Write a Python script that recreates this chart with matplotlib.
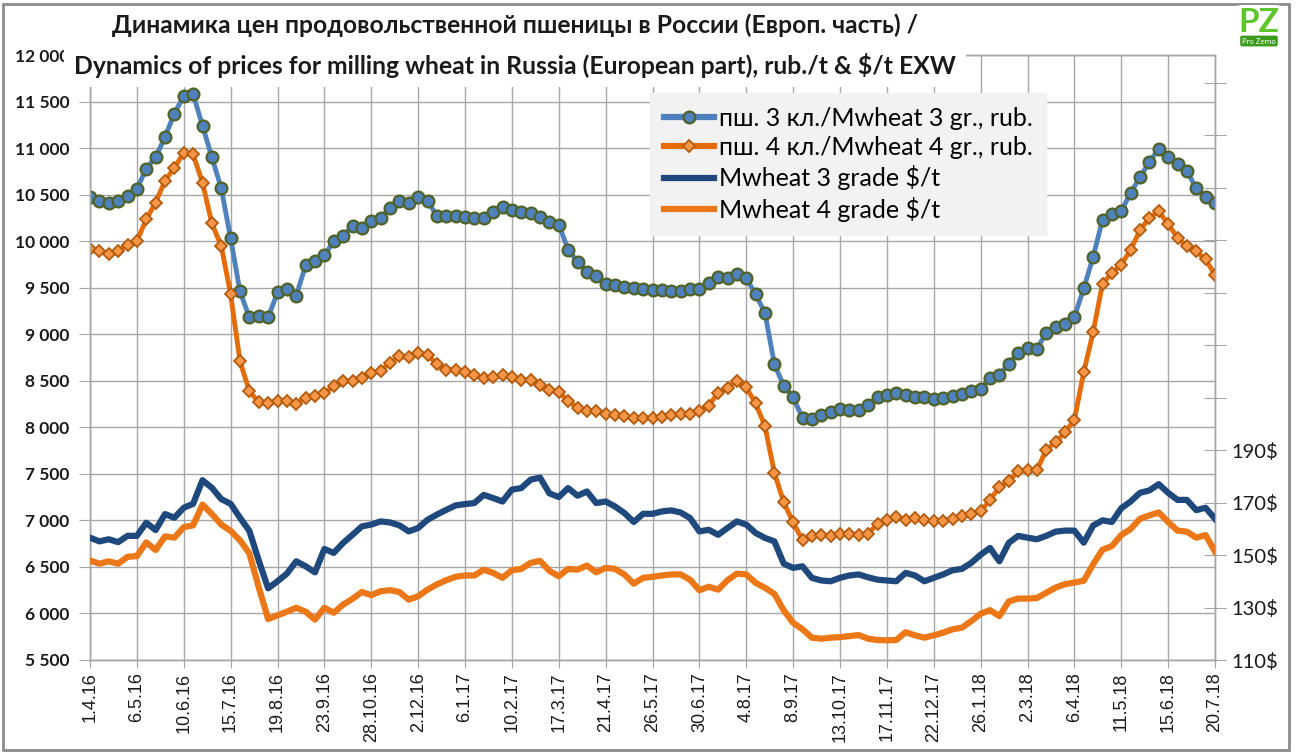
import matplotlib
matplotlib.use("Agg")
import matplotlib.pyplot as plt
from matplotlib.patches import Rectangle, FancyBboxPatch
from matplotlib.lines import Line2D

W, H = 1304, 753

tick_labels = ["1.4.16", "6.5.16", "10.6.16", "15.7.16", "19.8.16", "23.9.16",
               "28.10.16", "2.12.16", "6.1.17", "10.2.17", "17.3.17", "21.4.17",
               "26.5.17", "30.6.17", "4.8.17", "8.9.17", "13.10.17", "17.11.17",
               "22.12.17", "26.1.18", "2.3.18", "6.4.18", "11.5.18", "15.6.18",
               "20.7.18"]

# weekly prices, rub/t
rub3 = [10470, 10435, 10410, 10430, 10490, 10560, 10780, 10900, 11120, 11370,
        11560, 11580, 11240, 10900, 10570, 10030, 9460, 9180, 9200, 9180,
        9450, 9490, 9415, 9740, 9785, 9846, 10000, 10060, 10160, 10143,
        10220, 10250, 10357, 10430, 10410, 10470, 10430, 10275, 10268, 10268,
        10260, 10250, 10250, 10310, 10364, 10332, 10318, 10303, 10257, 10210,
        10178, 9910, 9779, 9671, 9625, 9536, 9525, 9511, 9493, 9490,
        9475, 9475, 9464, 9464, 9482, 9490, 9546, 9614, 9607, 9650,
        9600, 9430, 9225, 8680, 8445, 8321, 8100, 8093, 8136, 8164,
        8200, 8189, 8189, 8236, 8325, 8350, 8368, 8350, 8325, 8325,
        8307, 8314, 8332, 8357, 8386, 8411, 8529, 8564, 8682, 8803,
        8850, 8840, 9018, 9074, 9111, 9185, 9493, 9830, 10229, 10292,
        10321, 10520, 10686, 10852, 10993, 10900, 10826, 10753, 10568, 10476,
        10410]
rub4 = [9919, 9899, 9859, 9899, 9960, 10000, 10234, 10415, 10649, 10790,
        10948, 10931, 10629, 10190, 9948, 9431, 8710, 8387, 8270, 8258,
        8286, 8286, 8250, 8319, 8340, 8364, 8443, 8496, 8496, 8525,
        8586, 8607, 8693, 8764, 8750, 8793, 8775, 8679, 8621, 8621,
        8596, 8561, 8525, 8536, 8561, 8536, 8507, 8507, 8454, 8404,
        8375, 8286, 8211, 8179, 8179, 8139, 8132, 8121, 8096, 8104,
        8096, 8114, 8132, 8143, 8143, 8179, 8232, 8371, 8425, 8496,
        8429, 8257, 8011, 7510, 7193, 6979, 6786, 6829, 6846, 6829,
        6857, 6857, 6846, 6857, 6961, 7007, 7032, 7000, 7025, 7000,
        6989, 6996, 7014, 7043, 7068, 7096, 7221, 7354, 7422, 7526,
        7537, 7537, 7760, 7841, 7945, 8081, 8592, 9022, 9544, 9655,
        9747, 9906, 10117, 10250, 10320, 10184, 10036, 9944, 9889, 9804,
        9638]
# weekly prices, $/t
usd3 = [156.6, 155.2, 156.0, 154.9, 157.3, 157.3, 162.3, 159.5, 165.6, 164.2,
        168.0, 169.5, 178.5, 175.6, 171.3, 169.5, 164.2, 159.2, 147.9, 137.3,
        140.0, 142.9, 147.6, 145.7, 143.4, 152.3, 150.8, 154.6, 157.7, 160.9,
        161.6, 162.8, 162.4, 161.3, 159.0, 160.3, 163.4, 165.4, 167.2, 168.9,
        169.4, 169.8, 172.9, 171.7, 170.4, 174.9, 175.5, 178.7, 179.5, 173.5,
        172.1, 175.5, 172.6, 174.2, 169.8, 170.4, 168.5, 166.0, 162.6, 165.7,
        165.7, 166.6, 167.0, 166.2, 164.1, 159.0, 159.6, 157.7, 160.3, 162.8,
        161.6, 158.4, 156.5, 155.2, 146.7, 145.1, 145.7, 141.3, 140.3, 140.0,
        141.3, 142.2, 142.6, 141.5, 140.6, 140.3, 140.0, 143.2, 142.2, 140.0,
        141.3, 142.6, 144.2, 144.7, 147.0, 150.1, 152.7, 147.6, 154.6, 157.3,
        156.6, 156.0, 157.3, 158.9, 159.3, 159.3, 154.7, 161.2, 163.2, 162.6,
        167.8, 170.4, 173.7, 174.6, 177.0, 173.7, 171.0, 171.0, 167.1, 168.0,
        163.8]
usd4 = [147.9, 146.7, 147.6, 146.7, 149.3, 149.6, 154.8, 151.9, 157.1, 156.6,
        160.6, 161.3, 169.2, 165.6, 161.6, 159.2, 155.6, 150.6, 137.7, 125.6,
        127.0, 128.4, 129.9, 128.4, 125.4, 129.9, 128.0, 131.1, 133.3, 135.9,
        134.7, 136.2, 136.6, 135.9, 133.0, 134.3, 136.8, 138.8, 140.4, 141.7,
        142.2, 142.2, 144.4, 143.2, 141.3, 144.2, 144.7, 147.0, 147.8, 144.0,
        141.9, 144.7, 144.4, 146.0, 143.4, 145.1, 144.7, 142.6, 139.1, 141.3,
        141.7, 142.2, 142.6, 142.6, 140.6, 136.6, 137.9, 136.8, 140.4, 142.9,
        142.6, 139.4, 137.5, 135.2, 128.9, 124.2, 121.7, 118.5, 118.1, 118.5,
        118.7, 119.1, 119.5, 118.1, 117.6, 117.5, 117.6, 120.6, 119.4, 118.5,
        119.4, 120.4, 121.7, 122.3, 124.8, 127.6, 129.0, 126.7, 132.3, 133.4,
        133.4, 133.6, 135.6, 137.6, 138.9, 139.5, 140.2, 146.5, 152.0, 153.4,
        157.6, 159.9, 163.8, 165.1, 166.2, 162.6, 159.3, 158.9, 156.6, 157.6,
        151.3]

labels = ["пш. 3 кл./Mwheat 3 gr., rub.", "пш. 4 кл./Mwheat 4 gr., rub.",
          "Mwheat 3 grade $/t", "Mwheat 4 grade $/t"]

weeks = list(range(len(rub3)))
GRID = "#a6a6a6"
BLUE = "#4f81bd"
ORANGE = "#e46c0a"
NAVY = "#1f497d"
ORANGE2 = "#ec7717"

fig = plt.figure(figsize=(W / 100, H / 100), dpi=100)


def fx(px):
    return px / W


def fy(py):
    return 1 - py / H


ax = fig.add_axes([fx(90), fy(660), fx(1215) - fx(90), fy(55) - fy(660)])
ax2 = ax.twinx()

ax.set_xlim(0, len(rub3) - 1)
ax.set_ylim(5500, 12000)
ax2.set_ylim(110, 340.5)

ax.set_xticks(range(0, len(rub3), 5))
ax.set_xticklabels(tick_labels, rotation=90, family="Liberation Sans", fontsize=13)
yt = list(range(5500, 12001, 500))
ax.set_yticks(yt)
ax.set_yticklabels([f"{v:,}".replace(",", " ") for v in yt],
                   family=["Lato", "DejaVu Sans"], fontweight="bold", fontsize=12.5)
rt = list(range(110, 331, 20))
ax2.set_yticks(rt)
ax2.set_yticklabels([f"{v}$" if v <= 190 else "" for v in rt],
                    family=["Lato", "DejaVu Sans"], fontsize=14.5)

ax.grid(True, color=GRID, lw=1)
ax.set_axisbelow(True)
for a in (ax, ax2):
    for s in a.spines.values():
        s.set_color(GRID)
        s.set_linewidth(1)
ax.tick_params(axis="x", length=6, color=GRID, pad=3, labelcolor="#1a1a1a")
ax.tick_params(axis="y", length=8, color=GRID, pad=7, labelcolor="#1a1a1a")
ax2.tick_params(axis="y", direction="inout", length=16, color=GRID, pad=4,
                labelcolor="#1a1a1a")

ax.plot(weeks, rub3, color=BLUE, lw=3.5, marker="o", ms=8.5, mfc=BLUE,
        mec="#4f6228", mew=1.6, zorder=4)
ax.plot(weeks, rub4, color=ORANGE, lw=3.5, marker="D", ms=6.5, mfc="#f79646",
        mec="#b25b0f", mew=1.3, zorder=4)
ax2.plot(weeks, usd3, color=NAVY, lw=4.5, solid_joinstyle="round", zorder=3)
ax2.plot(weeks, usd4, color=ORANGE2, lw=4.5, solid_joinstyle="round", zorder=3)

handles = [
    Line2D([], [], color=BLUE, lw=4.5, marker="o", ms=8.5, mfc=BLUE, mec="#4f6228", mew=1.6),
    Line2D([], [], color=ORANGE, lw=4.5, marker="D", ms=6.5, mfc="#f79646", mec="#b25b0f", mew=1.3),
    Line2D([], [], color=NAVY, lw=4.5),
    Line2D([], [], color=ORANGE2, lw=4.5),
]
leg = ax2.legend(handles, labels, loc="upper left",
                 bbox_to_anchor=((650 - 90) / 1125, (660 - 93) / 605),
                 prop={"family": ["Lato", "Open Sans", "DejaVu Sans"], "size": 18},
                 frameon=True, fancybox=False, facecolor="#f2f2f2", edgecolor="#f2f2f2",
                 framealpha=1, handlelength=2.0, handletextpad=0.2, labelspacing=0.25,
                 borderpad=0.55, borderaxespad=0)
leg.set_zorder(10)

# titles
t1 = fig.text(fx(515), fy(25), "Динамика цен продовольственной пшеницы в России (Европ. часть) /",
              ha="center", va="center", fontsize=15, fontweight="bold",
              family=["Lato", "Open Sans", "DejaVu Sans"], color="#1a1a1a")
t2 = fig.text(fx(515), fy(65), "Dynamics of prices for milling wheat in Russia (European part), rub./t & $/t EXW",
              ha="center", va="center", fontsize=15, fontweight="bold",
              family=["Lato", "Open Sans", "DejaVu Sans"], color="#1a1a1a",
              bbox=dict(boxstyle="square,pad=0.4", fc="white", ec="none"))

fig.canvas.draw()
r = fig.canvas.get_renderer()
for t, target in ((t1, 810), (t2, 886)):
    w = t.get_window_extent(r).width
    t.set_fontsize(t.get_fontsize() * target / w)

# outer frame
fig.add_artist(Rectangle((fx(3), fy(750)), fx(1289) - fx(3), fy(4) - fy(750),
                         transform=fig.transFigure, fill=False, ec="#8c8c8c", lw=2))

# logo
fig.add_artist(FancyBboxPatch((fx(1233), fy(46)), fx(52), fy(5) - fy(46),
                              boxstyle="round,pad=0,rounding_size=0.008",
                              transform=fig.transFigure, fc="white", ec="none", zorder=5))
fig.text(fx(1259), fy(22), "PZ", ha="center", va="center", fontsize=24, fontweight="bold",
         color="#5ec52a", family="Lato", zorder=6)
fig.text(fx(1259), fy(41), "Pro Zerno", ha="center", va="center", fontsize=5.5,
         color="white", family="Lato", zorder=7,
         bbox=dict(boxstyle="round,pad=0.25", fc="#3a9a1a", ec="none"))

fig.savefig("out.png", dpi=100)
